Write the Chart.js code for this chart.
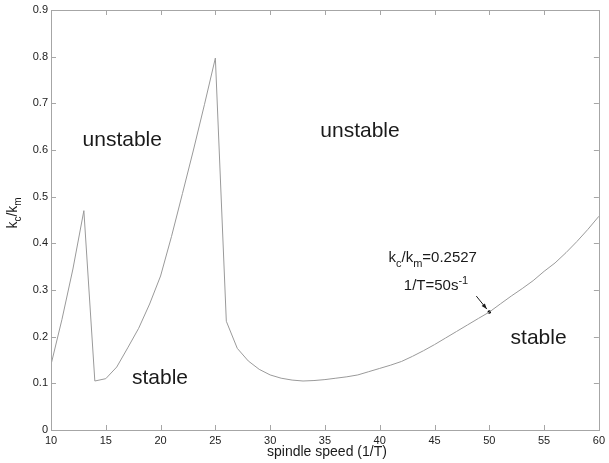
<!DOCTYPE html>
<html>
<head>
<meta charset="utf-8">
<script src="https://cdn.jsdelivr.net/npm/chart.js@4"></script>
<style>
  html, body { margin: 0; padding: 0; background: #fff; }
  #wrap { position: relative; width: 609px; height: 463px; }
</style>
</head>
<body>
<div id="wrap"><canvas id="lobes"></canvas></div>
<script>
// Stability lobe diagram: kc/km vs spindle speed (1/T)
const spindleSpeed = [10, 11, 12, 13, 14, 15, 16, 17, 18, 19, 20, 21, 22, 23, 24, 25,
    26, 27, 28, 29, 30, 31, 32, 33, 34, 35, 36, 37, 38, 39, 40, 41, 42, 43, 44, 45,
    46, 47, 48, 49, 50, 51, 52, 53, 54, 55, 56, 57, 58, 59, 60];
const kRatio = [0.140, 0.237, 0.345, 0.470, 0.105, 0.110, 0.135, 0.176, 0.218, 0.270, 0.330, 0.415, 0.507, 0.600, 0.697, 0.797,
    0.233, 0.175, 0.148, 0.130, 0.118, 0.111, 0.107, 0.105, 0.106, 0.108, 0.111, 0.114, 0.118, 0.125, 0.132, 0.139, 0.147, 0.158, 0.170, 0.183,
    0.197, 0.211, 0.225, 0.239, 0.2527, 0.270, 0.287, 0.303, 0.320, 0.340, 0.358, 0.380, 0.404, 0.430, 0.458];
const markSpeed = [50];
const markRatio = [0.2527];
const xTicks = [10, 15, 20, 25, 30, 35, 40, 45, 50, 55, 60];
const yTicks = [0, 0.1, 0.2, 0.3, 0.4, 0.5, 0.6, 0.7, 0.8, 0.9];

// region labels in data coordinates
const regionLabels = [
    { text: 'unstable', x: 16.5, y: 0.608 },
    { text: 'unstable', x: 38.2, y: 0.628 },
    { text: 'stable', x: 19.95, y: 0.099 },
    { text: 'stable', x: 54.5, y: 0.184 }
];

const FONT = 'Arial, "Liberation Sans", sans-serif';
const axisGrey = '#a6a6a6';

// draw a run of [text, kind] pieces, kind: n normal, sub, sup
function drawRich(ctx, parts, x, y, size) {
    let cx = x;
    parts.forEach(p => {
        const small = p[1] !== 'n';
        ctx.font = (small ? Math.round(size * 0.72) : size) + 'px ' + FONT;
        let dy = 0;
        if (p[1] === 'sub') dy = size * 0.3;
        if (p[1] === 'sup') dy = -size * 0.42;
        ctx.fillText(p[0], cx, y + dy);
        cx += ctx.measureText(p[0]).width;
    });
    return cx - x;
}

function richWidth(ctx, parts, size) {
    let w = 0;
    parts.forEach(p => {
        ctx.font = (p[1] !== 'n' ? Math.round(size * 0.72) : size) + 'px ' + FONT;
        w += ctx.measureText(p[0]).width;
    });
    return w;
}

const decorPlugin = {
    id: 'decor',
    afterDraw(chart) {
        const ctx = chart.ctx;
        const xs = chart.scales.x, ys = chart.scales.y;
        const a = chart.chartArea;
        ctx.save();

        // box
        ctx.strokeStyle = axisGrey;
        ctx.lineWidth = 1;
        ctx.strokeRect(Math.round(a.left) + 0.5, Math.round(a.top) + 0.5,
            Math.round(a.right - a.left), Math.round(a.bottom - a.top));

        // inward ticks on all sides
        const tl = 5;
        ctx.beginPath();
        xTicks.forEach(v => {
            const px = Math.round(xs.getPixelForValue(v)) + 0.5;
            ctx.moveTo(px, a.bottom); ctx.lineTo(px, a.bottom - tl);
            ctx.moveTo(px, a.top); ctx.lineTo(px, a.top + tl);
        });
        yTicks.forEach(v => {
            const py = Math.round(ys.getPixelForValue(v)) + 0.5;
            ctx.moveTo(a.left, py); ctx.lineTo(a.left + tl, py);
            ctx.moveTo(a.right, py); ctx.lineTo(a.right - tl, py);
        });
        ctx.stroke();

        // region labels
        ctx.fillStyle = '#1a1a1a';
        ctx.textBaseline = 'alphabetic';
        ctx.textAlign = 'center';
        ctx.font = '21px ' + FONT;
        regionLabels.forEach(l => {
            ctx.fillText(l.text, xs.getPixelForValue(l.x), ys.getPixelForValue(l.y));
        });

        // annotation
        ctx.textAlign = 'left';
        drawRich(ctx, [['k', 'n'], ['c', 'sub'], ['/k', 'n'], ['m', 'sub'], ['=0.2527', 'n']],
            xs.getPixelForValue(40.8), ys.getPixelForValue(0.359), 15);
        drawRich(ctx, [['1/T=50s', 'n'], ['-1', 'sup']],
            xs.getPixelForValue(42.2), ys.getPixelForValue(0.300), 15);

        // arrow to marked point
        const px = xs.getPixelForValue(markSpeed[0]);
        const py = ys.getPixelForValue(markRatio[0]);
        const x0 = px - 13, y0 = py - 16, x1 = px - 2.5, y1 = py - 3;
        ctx.strokeStyle = '#1a1a1a';
        ctx.beginPath();
        ctx.moveTo(x0, y0); ctx.lineTo(x1, y1);
        ctx.stroke();
        const ang = Math.atan2(y1 - y0, x1 - x0);
        ctx.beginPath();
        ctx.moveTo(x1, y1);
        ctx.lineTo(x1 - 6 * Math.cos(ang - 0.35), y1 - 6 * Math.sin(ang - 0.35));
        ctx.lineTo(x1 - 6 * Math.cos(ang + 0.35), y1 - 6 * Math.sin(ang + 0.35));
        ctx.closePath();
        ctx.fillStyle = '#1a1a1a';
        ctx.fill();

        // axis titles
        ctx.fillStyle = '#1a1a1a';
        ctx.font = '14px ' + FONT;
        ctx.textAlign = 'center';
        ctx.fillText('spindle speed (1/T)', (a.left + a.right) / 2 + 2, 456);

        const yParts = [['k', 'n'], ['c', 'sub'], ['/k', 'n'], ['m', 'sub']];
        ctx.textAlign = 'left';
        const w = richWidth(ctx, yParts, 14);
        ctx.translate(17, 213);
        ctx.rotate(-Math.PI / 2);
        drawRich(ctx, yParts, -w / 2, 0, 14);

        ctx.restore();
    }
};

new Chart(document.getElementById('lobes'), {
    type: 'line',
    data: {
        datasets: [{
            data: spindleSpeed.map((s, i) => ({ x: s, y: kRatio[i] })),
            borderColor: '#9a9a9a',
            borderWidth: 1,
            pointRadius: 0,
            tension: 0
        }, {
            data: markSpeed.map((s, i) => ({ x: s, y: markRatio[i] })),
            showLine: false,
            pointRadius: 1.8,
            pointBackgroundColor: '#000',
            pointBorderColor: '#000',
            pointBorderWidth: 0
        }]
    },
    options: {
        responsive: true,
        maintainAspectRatio: false,
        animation: false,
        layout: { padding: { top: 10, right: 8, left: 0, bottom: 0 } },
        plugins: { legend: { display: false }, tooltip: { enabled: false } },
        scales: {
            x: {
                type: 'linear',
                min: 10, max: 60,
                grid: { display: false, drawTicks: false },
                border: { display: false },
                afterBuildTicks: s => { s.ticks = xTicks.map(v => ({ value: v })); },
                afterFit: s => { s.height = 33; },
                ticks: {
                    padding: 4,
                    maxRotation: 0,
                    color: '#222',
                    font: { family: FONT, size: 11 }
                }
            },
            y: {
                min: 0, max: 0.9,
                grid: { display: false, drawTicks: false },
                border: { display: false },
                afterBuildTicks: s => { s.ticks = yTicks.map(v => ({ value: v })); },
                afterFit: s => { s.width = 51; },
                ticks: {
                    padding: 3,
                    color: '#222',
                    font: { family: FONT, size: 11 },
                    callback: v => String(Math.round(v * 10) / 10)
                }
            }
        }
    },
    plugins: [decorPlugin]
});
</script>
</body>
</html>
